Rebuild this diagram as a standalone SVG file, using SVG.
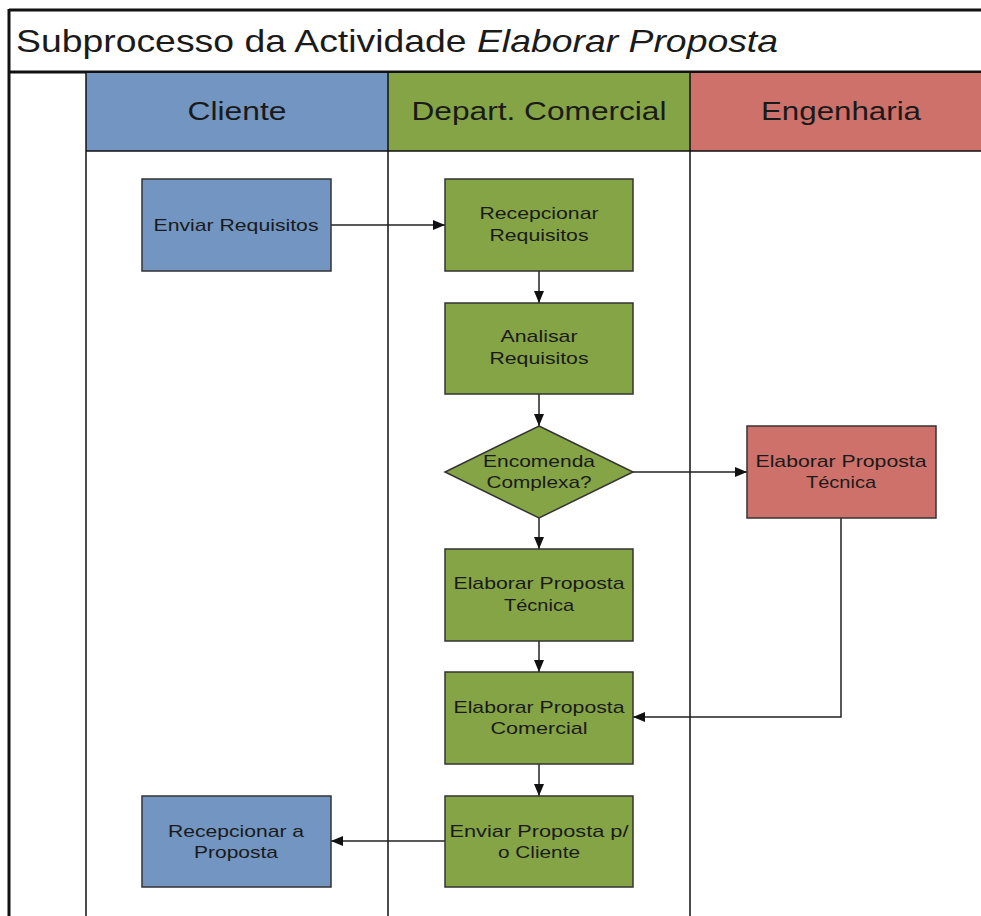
<svg xmlns="http://www.w3.org/2000/svg" width="981" height="916" viewBox="0 0 981 916">
<defs>
<marker id="ah" viewBox="0 0 12 10" refX="12" refY="5" markerWidth="12" markerHeight="10" markerUnits="userSpaceOnUse" orient="auto">
<path d="M0,0 L12,5 L0,10 z" fill="#111"/>
</marker>
<style>
.lane{stroke:#111;stroke-width:1.5;fill:none}
.hdr{font-family:"Liberation Sans",Arial,sans-serif;font-size:26px;fill:#1a1a1a;text-anchor:middle}
.t{font-family:"Liberation Sans",Arial,sans-serif;font-size:17px;fill:#1a1a1a;text-anchor:middle}
.b{fill:#7295C1;stroke:#333;stroke-width:1.5}
.g{fill:#85A446;stroke:#333;stroke-width:1.5}
.r{fill:#CD716A;stroke:#333;stroke-width:1.5}
.c{stroke:#222;stroke-width:1.5;fill:none;marker-end:url(#ah)}
</style>
</defs>
<rect width="981" height="916" fill="#fff"/>
<g id="frame">
<line x1="9" y1="10" x2="981" y2="10" stroke="#111" stroke-width="3"/>
<line x1="9" y1="9" x2="9" y2="916" stroke="#111" stroke-width="3"/>
<line x1="9" y1="72" x2="981" y2="72" stroke="#111" stroke-width="3"/>
<text x="16" y="52" font-family="'Liberation Sans',Arial,sans-serif" font-size="32" fill="#1a1a1a" textLength="762" lengthAdjust="spacingAndGlyphs">Subprocesso da Actividade <tspan font-style="italic">Elaborar Proposta</tspan></text>
</g>
<g id="lane-cliente">
<rect x="86" y="73" width="302" height="78" fill="#7295C1"/>
<text class="hdr" x="237" y="120" textLength="99" lengthAdjust="spacingAndGlyphs">Cliente</text>
</g>
<g id="lane-comercial">
<rect x="388" y="73" width="302" height="78" fill="#85A446"/>
<text class="hdr" x="539" y="120" textLength="255" lengthAdjust="spacingAndGlyphs">Depart. Comercial</text>
</g>
<g id="lane-engenharia">
<rect x="690" y="73" width="291" height="78" fill="#CD716A"/>
<text class="hdr" x="841" y="120" textLength="160" lengthAdjust="spacingAndGlyphs">Engenharia</text>
</g>
<g id="lane-lines">
<line class="lane" x1="86" y1="73" x2="86" y2="916"/>
<line class="lane" x1="388" y1="73" x2="388" y2="916"/>
<line class="lane" x1="690" y1="73" x2="690" y2="916"/>
<line class="lane" x1="86" y1="151" x2="981" y2="151"/>
</g>
<g id="connectors">
<line class="c" x1="331" y1="225" x2="445" y2="225"/>
<line class="c" x1="539" y1="271" x2="539" y2="303"/>
<line class="c" x1="539" y1="394" x2="539" y2="426"/>
<line class="c" x1="633" y1="472" x2="747" y2="472"/>
<line class="c" x1="539" y1="518" x2="539" y2="549"/>
<line class="c" x1="539" y1="641" x2="539" y2="672"/>
<polyline class="c" points="841,518 841,717 633,717"/>
<line class="c" x1="539" y1="764" x2="539" y2="796"/>
<line class="c" x1="445" y1="841" x2="331" y2="841"/>
</g>
<g id="enviar-requisitos">
<rect class="b" x="142" y="179" width="189" height="92"/>
<text class="t" x="236" y="231" textLength="165" lengthAdjust="spacingAndGlyphs">Enviar Requisitos</text>
</g>
<g id="recepcionar-requisitos">
<rect class="g" x="445" y="179" width="188" height="92"/>
<text class="t" x="539" y="219" textLength="119" lengthAdjust="spacingAndGlyphs">Recepcionar</text>
<text class="t" x="539" y="241" textLength="99" lengthAdjust="spacingAndGlyphs">Requisitos</text>
</g>
<g id="analisar-requisitos">
<rect class="g" x="445" y="303" width="188" height="91"/>
<text class="t" x="539" y="342" textLength="77" lengthAdjust="spacingAndGlyphs">Analisar</text>
<text class="t" x="539" y="364" textLength="99" lengthAdjust="spacingAndGlyphs">Requisitos</text>
</g>
<g id="encomenda-complexa">
<polygon class="g" points="539,426 633,472 539,518 445,472"/>
<text class="t" x="539" y="467" textLength="112" lengthAdjust="spacingAndGlyphs">Encomenda</text>
<text class="t" x="539" y="488" textLength="105" lengthAdjust="spacingAndGlyphs">Complexa?</text>
</g>
<g id="elaborar-tecnica-eng">
<rect class="r" x="747" y="426" width="189" height="92"/>
<text class="t" x="841" y="467" textLength="171" lengthAdjust="spacingAndGlyphs">Elaborar Proposta</text>
<text class="t" x="841" y="488" textLength="70" lengthAdjust="spacingAndGlyphs">Técnica</text>
</g>
<g id="elaborar-tecnica">
<rect class="g" x="445" y="549" width="188" height="92"/>
<text class="t" x="539" y="589" textLength="171" lengthAdjust="spacingAndGlyphs">Elaborar Proposta</text>
<text class="t" x="539" y="611" textLength="70" lengthAdjust="spacingAndGlyphs">Técnica</text>
</g>
<g id="elaborar-comercial">
<rect class="g" x="445" y="672" width="188" height="92"/>
<text class="t" x="539" y="713" textLength="171" lengthAdjust="spacingAndGlyphs">Elaborar Proposta</text>
<text class="t" x="539" y="734" textLength="97" lengthAdjust="spacingAndGlyphs">Comercial</text>
</g>
<g id="enviar-proposta">
<rect class="g" x="445" y="796" width="188" height="91"/>
<text class="t" x="539" y="837" textLength="179" lengthAdjust="spacingAndGlyphs">Enviar Proposta p/</text>
<text class="t" x="539" y="858" textLength="82" lengthAdjust="spacingAndGlyphs">o Cliente</text>
</g>
<g id="recepcionar-proposta">
<rect class="b" x="142" y="796" width="189" height="91"/>
<text class="t" x="236" y="837" textLength="136" lengthAdjust="spacingAndGlyphs">Recepcionar a</text>
<text class="t" x="236" y="858" textLength="84" lengthAdjust="spacingAndGlyphs">Proposta</text>
</g>
</svg>
